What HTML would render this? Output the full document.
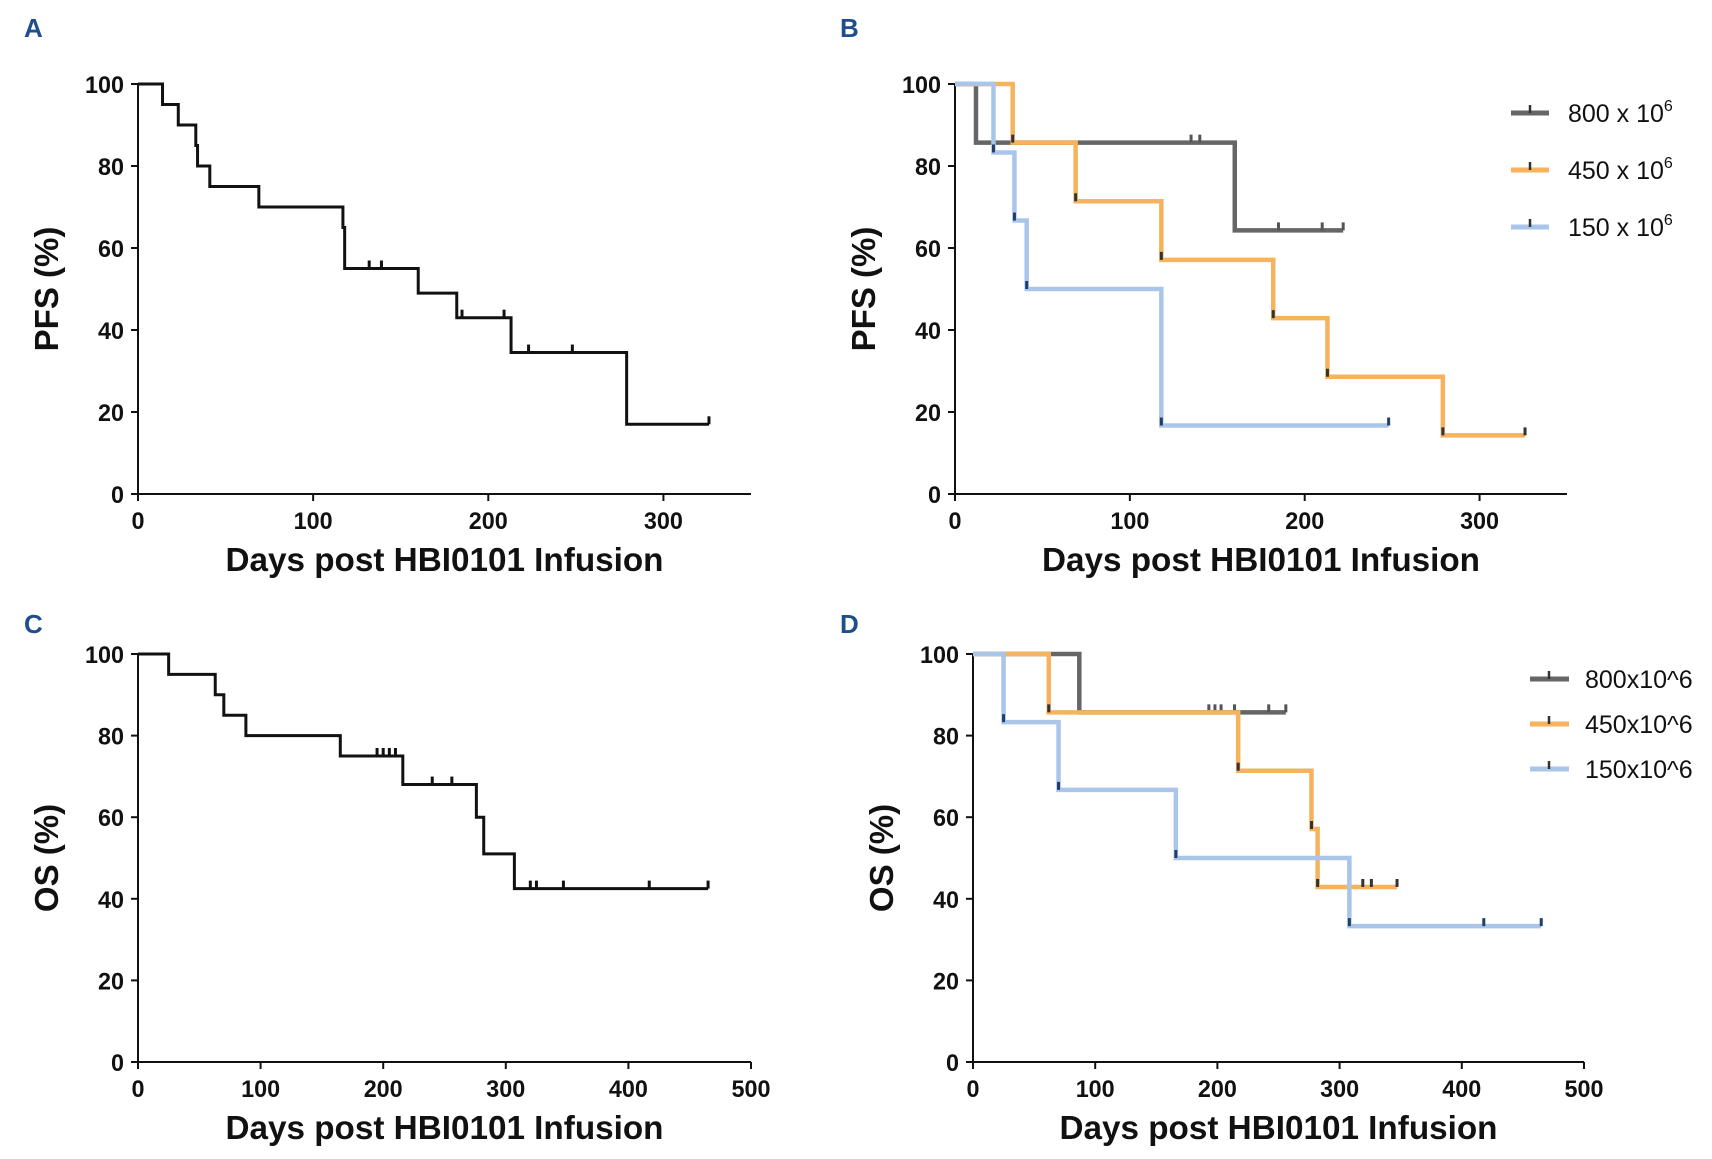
<!DOCTYPE html>
<html><head><meta charset="utf-8">
<style>
html,body{margin:0;padding:0;background:#fff;}
svg{display:block;font-family:"Liberation Sans",Arial,sans-serif;}
.tick{font-size:24px;font-weight:bold;fill:#111;}
.atitle{font-size:33px;font-weight:bold;fill:#111;}
.plabel{font-size:26px;font-weight:bold;fill:#1f4e8c;}
.leg{font-size:25px;fill:#111;}
</style></head>
<body>
<svg id="chart" width="1712" height="1159" viewBox="0 0 1712 1159"></svg>
<script>
// Panel A: PFS overall
const aTimes=[0,14,23,33,34,41,69,117,118,160,182,213,279,326];
const aSurv=[100,95,90,85,80,75,70,65,55,49,43,34.5,17,17];
const aCensT=[132,139,185,209,223,248,326];
// Panel B: PFS by dose
const b800T=[0,12,160,222];const b800S=[100,85.7,64.3,64.3];const b800C=[135,140,185,210,222];
const b450T=[0,33,69,118,182,213,279,326];const b450S=[100,85.7,71.4,57.1,42.9,28.6,14.3,14.3];const b450C=[33,69,118,182,213,279,326];
const b150T=[0,22,34,41,118,248];const b150S=[100,83.3,66.7,50,16.7,16.7];const b150C=[22,34,41,118,248];
// Panel C: OS overall
const cTimes=[0,25,63,70,88,165,216,276,282,307,465];
const cSurv=[100,95,90,85,80,75,68,60,51,42.5,42.5];
const cCensT=[195,200,205,210,240,256,320,325,347,417,465];
// Panel D: OS by dose
const d800T=[0,87,256];const d800S=[100,85.7,85.7];const d800C=[193,198,203,214,242,256];
const d450T=[0,62,217,277,282,347];const d450S=[100,85.7,71.4,57.1,42.9,42.9];const d450C=[62,217,277,282,319,326,347];
const d150T=[0,25,70,166,308,465];const d150S=[100,83.3,66.7,50,33.3,33.3];const d150C=[25,70,166,308,418,465];
const xTicksPFS=[0,100,200,300];const xTicksOS=[0,100,200,300,400,500];const yTicks=[0,20,40,60,80,100];
const legB=["800 x 10","450 x 10","150 x 10"];const legD=["800x10^6","450x10^6","150x10^6"];

const NS="http://www.w3.org/2000/svg";
const svg=document.getElementById('chart');
function mk(tag,attrs,parent){const e=document.createElementNS(NS,tag);for(const k in attrs)e.setAttribute(k,attrs[k]);(parent||svg).appendChild(e);return e;}

function panel(key,letter,lx,ly,x0,x1,xmax,y0,y1,xticks,ytitle){
  const g=mk('g',{});
  
  
  const sx=v=>x0+(x1-x0)*v/xmax, sy=v=>y0-(y0-y1)*v/100;
  const lab=mk('text',{x:lx,y:ly,class:'plabel'},g);lab.textContent=letter;
  
  
  const ax=mk('path',{d:`M${x0},${y1} V${y0} H${x1}`,stroke:'#111','stroke-width':2,fill:'none'},g);
  
  
  yTicks.forEach(t=>{mk('line',{x1:x0-7,x2:x0,y1:sy(t),y2:sy(t),stroke:'#111','stroke-width':2},g);
    const s=String(t);
    const tx=mk('text',{x:x0-14,y:sy(t)+9,class:'tick','text-anchor':'end',textLength:13*s.length,lengthAdjust:'spacingAndGlyphs'},g);tx.textContent=s;
    
    });
  xticks.forEach(t=>{mk('line',{x1:sx(t),x2:sx(t),y1:y0,y2:y0+7,stroke:'#111','stroke-width':2},g);
    const s=String(t);
    const tx=mk('text',{x:sx(t),y:y0+35,class:'tick','text-anchor':'middle',textLength:13*s.length,lengthAdjust:'spacingAndGlyphs'},g);tx.textContent=s;
    
    });
  const xt=mk('text',{x:(x0+x1)/2,y:y0+77,class:'atitle','text-anchor':'middle',textLength:438,lengthAdjust:'spacingAndGlyphs'},g);xt.textContent='Days post HBI0101 Infusion';
  
  
  const yc=(y0+y1)/2;
  const yt=mk('text',{x:x0-80,y:yc,class:'atitle','text-anchor':'middle',transform:`rotate(-90 ${x0-80} ${yc})`},g);
  yt.textContent=ytitle;
  
  
  return {g,sx,sy};
}
function curve(p,T,S,C,color,w,censColor,name){
  let d=`M${p.sx(T[0])},${p.sy(S[0])}`;
  for(let i=1;i<T.length;i++){d+=` H${p.sx(T[i])} V${p.sy(S[i])}`;}
  const path=mk('path',{d,stroke:color,'stroke-width':w,fill:'none','stroke-linejoin':'miter'},p.g);
  
  
  C.forEach(c=>{let lvl=S[0];for(let i=0;i<T.length;i++){if(T[i]<=c)lvl=S[i];}
    const m=mk('line',{x1:p.sx(c),x2:p.sx(c),y1:p.sy(lvl)-8,y2:p.sy(lvl),stroke:censColor,'stroke-width':3},p.g);
    
    });
}
const GREY='#666',ORG='#f6b25c',BLU='#a9c5ea';
const pA=panel('a','A',24,37,138,751,350,494,84,xTicksPFS,'PFS (%)');
curve(pA,aTimes,aSurv,aCensT,'#111',3,'#111','pfs-curve');
const pB=panel('b','B',840,37,955,1567,350,494,84,xTicksPFS,'PFS (%)');
curve(pB,b800T,b800S,b800C,GREY,4.5,'#555','pfs-800-curve');
curve(pB,b450T,b450S,b450C,ORG,4.5,'#333','pfs-450-curve');
curve(pB,b150T,b150S,b150C,BLU,4.5,'#1f3e6e','pfs-150-curve');
const pC=panel('c','C',24,633,138,751,500,1062,654,xTicksOS,'OS (%)');
curve(pC,cTimes,cSurv,cCensT,'#111',3,'#111','os-curve');
const pD=panel('d','D',840,633,973,1584,500,1062,654,xTicksOS,'OS (%)');
curve(pD,d800T,d800S,d800C,GREY,4.5,'#555','os-800-curve');
curve(pD,d450T,d450S,d450C,ORG,4.5,'#333','os-450-curve');
curve(pD,d150T,d150S,d150C,BLU,4.5,'#1f3e6e','os-150-curve');
// legends
const cols=[GREY,ORG,BLU];
legB.forEach((t,i)=>{const y=113+i*57;
  const l=mk('line',{x1:1511,x2:1549,y1:y,y2:y,stroke:cols[i],'stroke-width':5});
  
  
  mk('line',{x1:1530,x2:1530,y1:y-8,y2:y,stroke:'#333','stroke-width':2.5});
  const tx=mk('text',{x:1568,y:y+9,class:'leg'});
  tx.innerHTML=t+'<tspan dy="-11" font-size="16">6</tspan>';
  
  });
legD.forEach((t,i)=>{const y=679+i*45;
  const l=mk('line',{x1:1530,x2:1569,y1:y,y2:y,stroke:cols[i],'stroke-width':5});
  
  
  mk('line',{x1:1549,x2:1549,y1:y-8,y2:y,stroke:'#333','stroke-width':2.5});
  const tx=mk('text',{x:1585,y:y+9,class:'leg'});tx.textContent=t;
  
  });
</script>
</body></html>
